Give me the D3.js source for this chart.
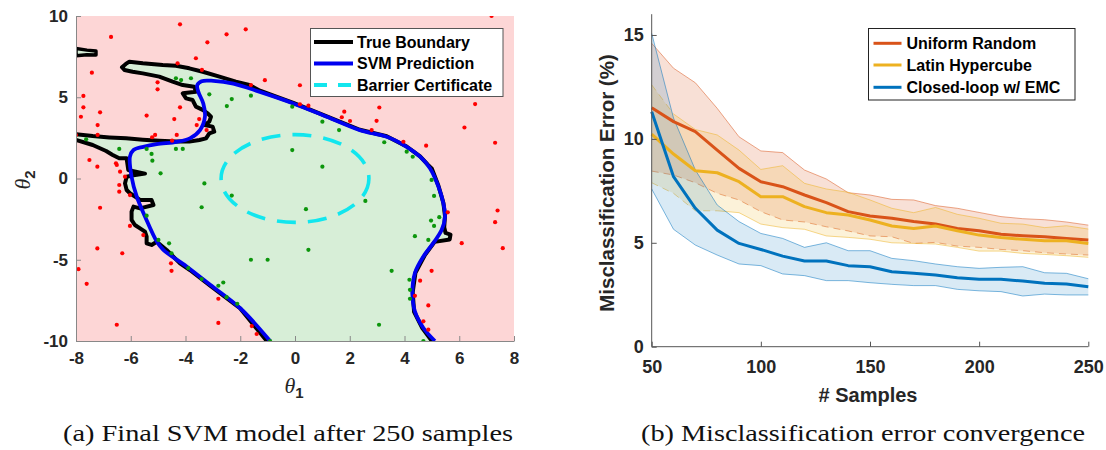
<!DOCTYPE html>
<html><head><meta charset="utf-8">
<script src="https://cdn.jsdelivr.net/npm/d3@7"></script>
<style>body{margin:0;background:#fff}svg{display:block}</style>
</head><body>
<svg id="c" width="1106" height="450"></svg>
<script>
// ---------------- Panel (a) data ----------------
const thetaTicks1 = [-8,-6,-4,-2,0,2,4,6,8];
const thetaTicks2 = [-10,-5,0,5,10];
// true boundary, part from bottom edge up the left side to the left plot edge
const trueBoundaryA = [[-1.03,-10],[-2.0,-8.0],[-3.1,-6.6],[-3.84,-5.63],[-4.2,-5.22],[-4.69,-4.40],[-5.05,-3.89],[-5.24,-4.09],[-5.42,-3.99],[-5.42,-3.58],[-5.48,-3.27],[-5.66,-3.07],[-5.85,-2.86],[-5.97,-2.55],[-5.97,-2.04],[-5.9,-1.73],[-5.66,-1.84],[-5.17,-1.63],[-5.24,-1.32],[-5.66,-1.32],[-6.03,-0.91],[-6.15,-0.71],[-6.21,-0.3],[-6.15,0.11],[-5.9,0.2],[-5.48,0.3],[-5.9,0.45],[-6.09,0.52],[-6.15,1.24],[-6.42,1.24],[-6.66,1.45],[-6.9,1.69],[-7.39,2.06],[-8,2.37]];
// true boundary, part from the left plot edge around the fingers to the bottom edge
const trueBoundaryB = [[-8,2.72],[-7.39,2.61],[-6.78,2.53],[-6.17,2.47],[-5.56,2.39],[-4.96,2.33],[-4.35,2.27],[-3.86,2.27],[-3.49,2.37],[-3.25,2.47],[-3.13,2.78],[-2.95,2.88],[-3.01,3.19],[-3.31,3.29],[-3.13,3.5],[-3.07,3.8],[-3.19,4.01],[-3.37,4.22],[-3.62,4.42],[-3.74,4.83],[-3.98,4.93],[-4.10,5.24],[-3.62,5.34],[-3.68,5.65],[-4.1,5.75],[-4.47,5.96],[-4.96,6.27],[-5.56,6.47],[-5.93,6.57],[-6.23,6.68],[-6.32,6.85],[-6.18,7.05],[-6.05,7.19],[-5.56,7.09],[-4.83,6.98],[-4.35,6.94],[-3.86,6.78],[-3.37,6.57],[-2.76,6.27],[-2.16,5.96],[-1.67,5.75],[-1.28,5.4],[-0.06,4.65],[1.16,3.82],[2.37,3.0],[3.35,2.6],[4.08,1.97],[4.57,1.36],[4.85,0.85],[5.0,0.6],[5.24,-0.45],[5.42,-1.5],[5.48,-2.3],[5.45,-3.0],[5.5,-3.35],[5.68,-3.45],[5.65,-3.75],[5.1,-3.9],[4.75,-4.7],[4.4,-5.8],[4.3,-7.0],[4.35,-8.2],[4.65,-9.2],[5.0,-10]];
const trueBoundarySliver = [[-8,8.0],[-7.6,7.9],[-7.27,7.85],[-7.27,7.6],[-7.6,7.62],[-8,7.55]];
const svmBoundary = [[-0.91,-10],[-2.01,-7.97],[-3.1,-6.54],[-3.96,-5.41],[-4.81,-4.39],[-5.05,-3.88],[-5.48,-2.34],[-5.78,-1.12],[-5.97,0.11],[-6.03,1.34],[-5.9,1.75],[-5.54,1.95],[-5.05,2.12],[-4.32,2.26],[-3.84,2.47],[-3.47,2.98],[-3.29,3.80],[-3.35,4.62],[-3.53,5.33],[-3.57,5.74],[-3.41,5.99],[-2.98,6.01],[-2.25,5.84],[-1.28,5.33],[-0.06,4.62],[1.16,3.80],[2.37,2.98],[3.35,2.57],[4.08,1.95],[4.57,1.34],[4.93,0.63],[5.24,-0.5],[5.42,-1.53],[5.48,-2.34],[5.36,-3.16],[5.05,-3.98],[4.69,-4.80],[4.38,-5.82],[4.29,-7.05],[4.38,-8.18],[4.69,-9.2],[5.11,-10]];
const barrierCenter = [0,0];
const barrierRadius = [2.7,2.7];
const unsafePoints = [[-4.20,9.49],[-6.72,8.71],[-2.50,8.87],[-1.80,9.18],[-3.20,8.38],[7.18,10.0],[-7.42,6.51],[-4.29,7.09],[-3.62,7.40],[-3.40,6.68],[-5.02,5.92],[-5.02,5.49],[-1.10,6.05],[0.18,5.74],[-7.73,5.08],[-7.73,4.38],[-7.82,3.80],[-7.12,4.07],[-7.21,3.29],[-7.21,2.68],[-8.0,2.67],[-5.42,3.87],[-4.41,3.66],[-4.20,4.38],[-5.11,2.68],[-5.22,2.54],[-4.32,2.68],[-3.59,3.29],[-3.50,3.66],[-3.23,2.98],[-4.49,2.33],[-7.51,1.14],[-6.54,0.94],[-7.22,0.73],[-6.51,0.83],[-6.39,0.42],[-6.21,0.11],[-6.42,-0.40],[-6.42,-0.81],[-6.03,-1.02],[-7.12,-1.80],[-6.03,-2.92],[-5.54,-3.48],[-7.22,-4.30],[-6.31,-4.60],[-4.53,-5.22],[-4.51,-5.68],[-7.91,-5.58],[-7.61,-6.48],[-6.51,-9.0],[-2.80,-7.40],[-2.80,-8.89],[-1.58,-9.08],[-1.40,-9.57],[0.18,4.57],[0.49,4.48],[1.80,4.11],[1.71,3.77],[2.01,3.54],[3.08,4.37],[2.98,3.55],[2.80,2.98],[3.96,2.26],[4.79,2.02],[6.58,4.58],[6.19,3.14],[7.31,2.20],[5.58,-2.08],[7.40,-1.97],[7.31,-2.69],[6.09,-3.98],[7.59,-4.29],[4.99,-5.68],[4.57,-6.29],[4.38,-7.22],[4.87,-7.81],[4.69,-8.79],[4.87,-9.30],[-1.61,5.75]];
const safePoints = [[-4.35,6.17],[-4.16,6.06],[-3.80,6.17],[-3.13,5.18],[-2.49,4.46],[-2.31,4.89],[-1.61,5.10],[-0.10,4.42],[1.0,3.50],[1.61,2.98],[3.26,2.23],[4.08,1.65],[4.30,1.34],[-0.10,1.75],[1.0,0.73],[4.99,-0.09],[-3.31,-0.30],[-2.31,-1.05],[-3.41,-1.77],[-4.91,0.32],[-5.24,1.51],[-5.21,1.10],[-4.35,1.82],[-4.10,1.82],[-5.42,1.82],[-6.42,1.82],[-7.63,2.41],[0.40,-1.89],[0.49,-4.39],[2.57,-1.38],[-1.61,-5.0],[-1.0,-5.0],[3.53,-5.68],[4.38,-3.55],[4.87,-3.78],[5.08,-2.92],[4.97,-2.59],[5.27,-2.38],[5.08,-1.07],[4.18,-6.23],[4.20,-6.85],[4.20,-7.40],[3.07,-9.0],[4.69,-10.0],[-0.91,-10.0],[-2.62,-6.40],[-2.80,-6.60],[-2.50,-7.30],[-2.11,-7.71],[-3.41,-6.19],[-3.90,-5.51],[-4.51,-4.60],[-4.60,-3.99],[-4.99,-3.78],[-5.42,-2.29]];
const legendA = ["True Boundary","SVM Prediction","Barrier Certificate"];

// ---------------- Panel (b) data ----------------
const samples = [50,60,70,80,90,100,110,120,130,140,150,160,170,180,190,200,210,220,230,240,250];
const sampleTicks = [50,100,150,200,250];
const errorTicks = [0,5,10,15];
const urMean  = [11.5,10.83,10.35,9.46,8.58,7.94,7.70,7.30,6.93,6.50,6.29,6.18,6.02,5.90,5.69,5.58,5.41,5.34,5.29,5.21,5.13];
const urUpper = [14.6,13.4,12.7,11.47,10.1,9.42,9.34,8.5,8.07,7.41,7.3,7.09,7.06,6.79,6.66,6.46,6.26,6.16,6.11,6.0,5.85];
const urLower = [8.45,8.26,7.89,7.38,7.06,6.5,6.1,6.0,5.77,5.57,5.33,5.29,4.97,5.02,4.84,4.78,4.68,4.62,4.52,4.46,4.41];
const lhMean  = [10.23,9.27,8.47,8.37,7.94,7.22,7.22,6.74,6.45,6.34,6.1,5.81,5.69,5.81,5.58,5.37,5.25,5.17,5.1,5.1,4.97];
const lhUpper = [12.6,11.2,10.45,10.19,9.46,8.53,8.71,7.86,7.59,7.43,7.06,6.66,6.45,6.7,6.37,6.18,5.94,5.9,5.73,5.82,5.66];
const lhLower = [7.89,7.38,6.54,6.54,6.45,5.9,5.73,5.65,5.33,5.26,5.17,5.0,4.97,4.94,4.78,4.6,4.6,4.49,4.44,4.38,4.3];
const clMean  = [11.31,8.18,6.66,5.61,4.97,4.68,4.36,4.12,4.12,3.9,3.85,3.61,3.53,3.45,3.32,3.24,3.24,3.16,3.05,3.02,2.89];
const clUpper = [15.08,11.0,8.5,6.82,6.02,5.45,5.21,4.78,5.0,4.62,4.62,4.25,4.14,3.98,3.85,3.77,3.82,3.85,3.56,3.53,3.27];
const clLower = [7.59,5.65,4.89,4.41,3.98,3.9,3.5,3.42,3.18,3.18,3.08,3.0,2.94,2.94,2.76,2.69,2.65,2.44,2.53,2.49,2.49];
const legendB = ["Uniform Random","Latin Hypercube","Closed-loop w/ EMC"];
const captions = ["(a) Final SVM model after 250 samples","(b) Misclassification error convergence"];

// ---------------- drawing ----------------
const svg = d3.select('#c');
const SANS = "'Liberation Sans', Arial, Helvetica, sans-serif";
const TXT = '#262626';
const defs = svg.append('defs');
const fmt = d => String(d);

// ===== Panel (a) =====
const xL = d3.scaleLinear().domain([-8,8]).range([76,514]);
const yL = d3.scaleLinear().domain([-10,10]).range([341,16]);
defs.append('clipPath').attr('id','clipL').append('rect')
  .attr('x',xL(-8)).attr('y',yL(10)).attr('width',xL(8)-xL(-8)).attr('height',yL(-10)-yL(10));
const gL = svg.append('g').attr('clip-path','url(#clipL)');
gL.append('rect').attr('x',xL(-8)).attr('y',yL(10)).attr('width',xL(8)-xL(-8)).attr('height',yL(-10)-yL(10)).attr('fill','#fdd6d6');
const lineL = d3.line().x(d=>xL(d[0])).y(d=>yL(d[1]));
gL.append('path').attr('d', lineL(trueBoundaryA.concat(trueBoundaryB))+'Z').attr('fill','#d7eed7');
gL.append('path').attr('d', lineL(trueBoundarySliver)+'Z').attr('fill','#d7eed7').attr('stroke','#000').attr('stroke-width',3.5).attr('stroke-linejoin','round');
[trueBoundaryA,trueBoundaryB].forEach(p=>{
  gL.append('path').attr('d', lineL(p)).attr('fill','none').attr('stroke','#000').attr('stroke-width',4).attr('stroke-linejoin','round').attr('stroke-linecap','round');
});
gL.append('path').attr('d', d3.line().curve(d3.curveCatmullRom.alpha(0.5)).x(d=>xL(d[0])).y(d=>yL(d[1]))(svmBoundary))
  .attr('fill','none').attr('stroke','#0000f0').attr('stroke-width',3.8);
gL.append('ellipse').attr('cx',xL(barrierCenter[0])).attr('cy',yL(barrierCenter[1]))
  .attr('rx',xL(barrierCenter[0]+barrierRadius[0])-xL(barrierCenter[0]))
  .attr('ry',yL(barrierCenter[1])-yL(barrierCenter[1]+barrierRadius[1]))
  .attr('fill','none').attr('stroke','#12e6ee').attr('stroke-width',3.6).attr('stroke-dasharray','19,12');
gL.selectAll('circle.u').data(unsafePoints).join('circle').attr('class','u')
  .attr('cx',d=>xL(d[0])).attr('cy',d=>yL(d[1])).attr('r',2.1).attr('fill','#f00');
gL.selectAll('circle.s').data(safePoints).join('circle').attr('class','s')
  .attr('cx',d=>xL(d[0])).attr('cy',d=>yL(d[1])).attr('r',2.1).attr('fill','#0c960c');

function styleAxis(g, col){
  g.select('.domain').attr('stroke',col).attr('stroke-width',1);
  g.selectAll('.tick line').attr('stroke',col);
  g.selectAll('.tick text').attr('fill',TXT).attr('font-family',SANS).attr('font-weight','bold').attr('font-size',17);
}
const axLB = svg.append('g').attr('transform',`translate(0,${yL(-10)})`)
  .call(d3.axisBottom(xL).tickValues(thetaTicks1).tickFormat(fmt).tickSizeInner(-5).tickSizeOuter(0).tickPadding(11));
styleAxis(axLB,'#888');
const axLL = svg.append('g').attr('transform',`translate(${xL(-8)},0)`)
  .call(d3.axisLeft(yL).tickValues(thetaTicks2).tickFormat(fmt).tickSizeInner(-5).tickSizeOuter(0).tickPadding(8));
styleAxis(axLL,'#888');

// axis labels theta
const t1 = svg.append('text').attr('x',294).attr('y',393).attr('text-anchor','middle').attr('fill',TXT);
t1.append('tspan').text('θ').attr('font-family',"'Liberation Serif', serif").attr('font-style','italic').attr('font-size',22);
t1.append('tspan').text('1').attr('font-family',SANS).attr('font-weight','bold').attr('font-size',15).attr('dy',5);
const t2 = svg.append('text').attr('transform','translate(30,180) rotate(-90)').attr('text-anchor','middle').attr('fill',TXT);
t2.append('tspan').text('θ').attr('font-family',"'Liberation Serif', serif").attr('font-style','italic').attr('font-size',22);
t2.append('tspan').text('2').attr('font-family',SANS).attr('font-weight','bold').attr('font-size',15).attr('dy',5);

// legend (a)
const lgA = svg.append('g');
lgA.append('rect').attr('x',310.5).attr('y',28.5).attr('width',192.5).attr('height',68).attr('fill','#fff').attr('stroke','#555').attr('stroke-width',1);
const lgAy = [42,63.5,85];
const lgAstyle = [{c:'#000',d:null},{c:'#0000f0',d:null},{c:'#12e6ee',d:'13,11'}];
legendA.forEach((t,i)=>{
  lgA.append('line').attr('x1',314).attr('x2',353).attr('y1',lgAy[i]).attr('y2',lgAy[i])
    .attr('stroke',lgAstyle[i].c).attr('stroke-width',4).attr('stroke-dasharray',lgAstyle[i].d);
  lgA.append('text').attr('x',357).attr('y',lgAy[i]).attr('dy','0.36em').text(t)
    .attr('font-family',SANS).attr('font-weight','bold').attr('font-size',16).attr('fill','#000');
});

// ===== Panel (b) =====
const xR = d3.scaleLinear().domain([50,250]).range([651.7,1088.3]);
const yR = d3.scaleLinear().domain([0,16]).range([346.7,14.2]);
const gR = svg.append('g');
const series = [
  {m:urMean,u:urUpper,l:urLower,c:'#D95319',fo:0.18,dashU:0,dashL:20},
  {m:lhMean,u:lhUpper,l:lhLower,c:'#EDB120',fo:0.17,dashU:1,dashL:3},
  {m:clMean,u:clUpper,l:clLower,c:'#0072BD',fo:0.15,dashU:0,dashL:0}
];
const area = (u,l)=>d3.area().x((d,i)=>xR(samples[i])).y0((d,i)=>yR(l[i])).y1((d,i)=>yR(u[i]))(samples);
// edge drawn dashed for its first n segments (where it lies under another band), solid after
function edge(arr, nDash, col){
  const pts = samples.map((s,i)=>[xR(s),yR(arr[i])]);
  const ln = d3.line();
  if(nDash>0) gR.append('path').attr('d',ln(pts.slice(0,nDash+1))).attr('fill','none').attr('stroke',col)
    .attr('stroke-opacity',0.5).attr('stroke-width',1).attr('stroke-dasharray','7,5');
  if(nDash<samples.length-1) gR.append('path').attr('d',ln(pts.slice(nDash))).attr('fill','none').attr('stroke',col)
    .attr('stroke-opacity',0.5).attr('stroke-width',1);
}
const lineR = arr=>d3.line().x((d,i)=>xR(samples[i])).y((d,i)=>yR(arr[i]))(samples);
series.forEach(s=>{
  gR.append('path').attr('d',area(s.u,s.l)).attr('fill',s.c).attr('fill-opacity',s.fo);
  edge(s.u, s.dashU, s.c);
  edge(s.l, s.dashL, s.c);
});
series.forEach(s=>{
  gR.append('path').attr('d',lineR(s.m)).attr('fill','none').attr('stroke',s.c).attr('stroke-width',3).attr('stroke-linejoin','round');
});
const axRB = svg.append('g').attr('transform',`translate(0,${yR(0)})`)
  .call(d3.axisBottom(xR).tickValues(sampleTicks).tickFormat(fmt).tickSizeInner(-5).tickSizeOuter(0).tickPadding(14));
styleAxis(axRB,'#555');
axRB.selectAll('.tick text').attr('font-size',18);
const axRL = svg.append('g').attr('transform',`translate(${xR(50)},0)`)
  .call(d3.axisLeft(yR).tickValues(errorTicks).tickFormat(fmt).tickSizeInner(-5).tickSizeOuter(0).tickPadding(8));
styleAxis(axRL,'#555');
axRL.selectAll('.tick text').attr('font-size',18);
axRL.select('.domain').attr('d',`M0,${yR(0)}V${yR(16)}`);
axRB.select('.domain').attr('d',`M${xR(50)},0H${xR(250)}`);

svg.append('text').attr('x',868).attr('y',402).attr('text-anchor','middle').text('# Samples')
  .attr('font-family',SANS).attr('font-weight','bold').attr('font-size',20).attr('fill',TXT);
svg.append('text').attr('transform','translate(614,183) rotate(-90)').attr('text-anchor','middle').text('Misclassification Error (%)')
  .attr('font-family',SANS).attr('font-weight','bold').attr('font-size',20.5).attr('fill',TXT);

// legend (b)
const lgB = svg.append('g');
lgB.append('rect').attr('x',868.5).attr('y',28.5).attr('width',206.5).attr('height',71.5).attr('fill','#fff').attr('stroke','#222').attr('stroke-width',1);
const lgBy = [43.3,65,87.3];
legendB.forEach((t,i)=>{
  lgB.append('line').attr('x1',873.5).attr('x2',901.5).attr('y1',lgBy[i]).attr('y2',lgBy[i])
    .attr('stroke',series[i].c).attr('stroke-width',3);
  lgB.append('text').attr('x',906.5).attr('y',lgBy[i]).attr('dy','0.36em').text(t)
    .attr('font-family',SANS).attr('font-weight','bold').attr('font-size',16).attr('fill','#000');
});

// captions
const capX = [288,863], capW = [450,444];
captions.forEach((c,i)=>{
  svg.append('text').attr('x',capX[i]).attr('y',441).attr('text-anchor','middle').text(c)
    .attr('font-family',"'Liberation Serif','DejaVu Serif',serif").attr('font-size',24).attr('fill','#111')
    .attr('textLength',capW[i]).attr('lengthAdjust','spacingAndGlyphs');
});
</script>
</body></html>
